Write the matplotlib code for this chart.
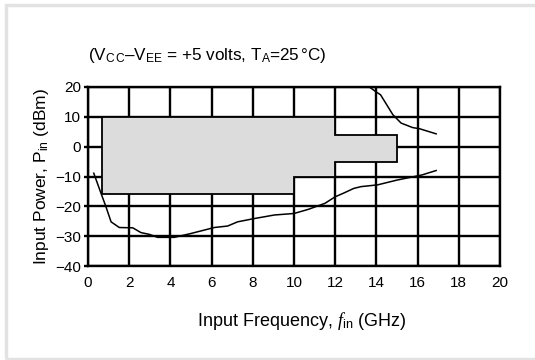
import matplotlib
matplotlib.use("Agg")
import matplotlib.pyplot as plt
from matplotlib.patches import Polygon, Rectangle
from matplotlib import font_manager

fams = [f.name for f in font_manager.fontManager.ttflist]
base = 'Liberation Sans Narrow' if 'Liberation Sans Narrow' in fams else 'Liberation Sans'
plt.rcParams['font.family'] = [base, 'DejaVu Sans']
plt.rcParams['mathtext.fontset'] = 'custom'
plt.rcParams['mathtext.rm'] = base
plt.rcParams['mathtext.it'] = 'Liberation Serif:italic'

# Operating window (shaded region outline)
region_x = [0.7, 12, 12, 15, 15, 12, 12, 10, 10, 0.7]
region_y = [10, 10, 4, 4, -5, -5, -10, -10, -16, -16]

# Lower sensitivity curve
low_f = [0.28, 0.63, 0.87, 1.12, 1.52, 2.17, 2.57, 2.98, 3.38, 4.19, 5.0, 6.13, 6.78,
         7.26, 8.07, 9.05, 10.0, 10.7, 11.5, 12.0, 12.4, 12.9, 13.25, 14.06, 15.0, 16.2, 16.9]
low_p = [-8.9, -15.6, -20.1, -25.2, -27.1, -27.2, -28.8, -29.4, -30.4, -30.4, -29.1, -27.1, -26.6,
         -25.2, -24.1, -22.9, -22.4, -21.0, -19.0, -16.8, -15.6, -14.0, -13.4, -12.8, -11.2, -9.5, -8.0]

# Upper overload curve
up_f = [13.66, 14.0, 14.2, 14.55, 14.8, 15.2, 15.76, 16.1, 16.9]
up_p = [20.0, 18.3, 17.4, 13.5, 10.7, 7.9, 6.4, 6.0, 4.3]

xticks = [0, 2, 4, 6, 8, 10, 12, 14, 16, 18, 20]
yticks = [-40, -30, -20, -10, 0, 10, 20]

W, H = 535, 360
fig = plt.figure(figsize=(W / 100, H / 100), dpi=100)
fig.patch.set_facecolor('white')

# light gray frame
fig.patches.append(Rectangle((6 / W, 1.5 / H), 1.0, 1 - 6.5 / H, transform=fig.transFigure,
                             fill=False, edgecolor='#e2e2e2', linewidth=2.5, zorder=0))

ax = fig.add_axes([88 / W, 1 - 266 / H, 412 / W, 179 / H])
ax.set_xlim(0, 20)
ax.set_ylim(-40, 20)

poly = Polygon(list(zip(region_x, region_y)), closed=True, facecolor='#dcdcdc',
               edgecolor='black', linewidth=1.3, zorder=3)
ax.add_patch(poly)

ax.plot(low_f, low_p, color='black', linewidth=1.1, zorder=4)
ax.plot(up_f, up_p, color='black', linewidth=1.1, zorder=4)

ax.set_xticks(xticks)
ax.set_yticks(yticks)
ax.set_yticklabels(['\u221240', '\u221230', '\u221220', '\u221210', '0', '10', '20'])
ax.grid(True, color='black', linewidth=1.7, zorder=1)
ax.set_axisbelow(True)
for s in ax.spines.values():
    s.set_linewidth(1.7)
ax.tick_params(axis='x', length=0, pad=7, labelsize=11)
ax.tick_params(axis='y', length=3, width=1.7, pad=2, labelsize=11)

ax.set_ylabel(r'Input Power, P$_{\rm in}$ (dBm)', fontsize=12.5, labelpad=3)

fig.text(302 / W, 1 - 326 / H, r'Input Frequency, $\it{f}$$_{\rm in}$ (GHz)', fontsize=13,
         ha='center', va='baseline')
fig.text(88 / W, 1 - 60 / H,
         r'(V$_{\rm C\,C}$–V$_{\rm EE}$ = +5 volts, T$_{\rm A}$=25$\,$°C)',
         fontsize=12.3, ha='left', va='baseline')

fig.savefig('out.png', dpi=100, facecolor='white')
